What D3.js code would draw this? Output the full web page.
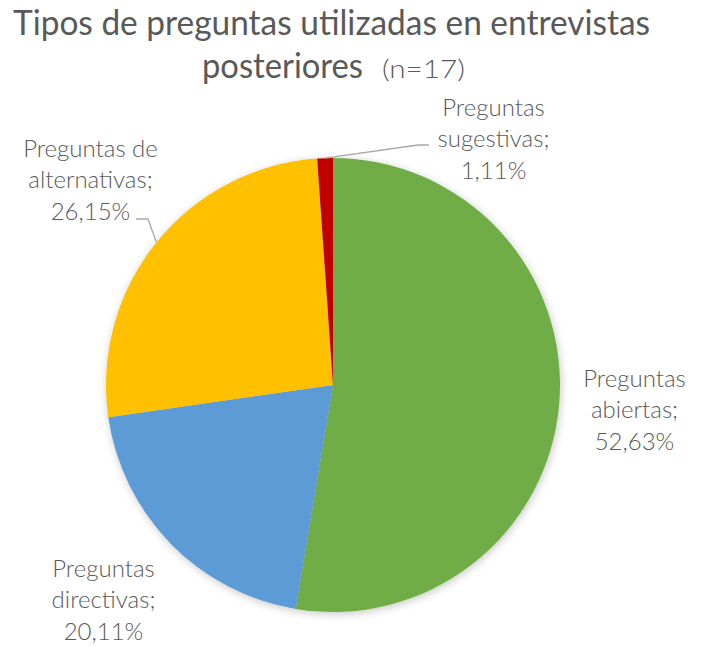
<!DOCTYPE html>
<html lang="es">
<head>
    <meta charset="UTF-8">
    <title>Tipos de preguntas</title>
    <script src="https://d3js.org/d3.v7.min.js"></script>
    <style>
        body { margin: 0; background: #fff; }
        text { font-family: Lato, "Open Sans", sans-serif; fill: #595959; }
    </style>
</head>
<body>
    <div id="chart"></div>

    <script>
        // data
        const categories = ["Preguntas abiertas", "Preguntas directivas", "Preguntas de alternativas", "Preguntas sugestivas"];
        const values = [52.63, 20.11, 26.15, 1.11];
        const colors = ["#70AD47", "#5B9BD5", "#FFC000", "#C00000"];
        const titleLines = ["Tipos de preguntas utilizadas en entrevistas", "posteriores"];
        const subtitle = "(n=17)";

        // layout
        var width = 707, height = 647;
        var cx = 333, cy = 385, radius = 227;
        // label centre x and baseline of the middle line
        var labelPos = [[634.5, 418], [103.5, 608], [90.5, 188], [493.5, 147]];
        // leader elbows (null = no leader)
        var leaders = [null, null, [[148, 219], [136, 219]], [[418, 145], [429, 145]]];
        var lineGap = 31.5;

        const svg = d3.select("#chart").append("svg")
            .attr("width", width)
            .attr("height", height);

        var defs = svg.append("defs");
        var shadow = defs.append("filter")
            .attr("id", "shadow")
            .attr("x", "-20%").attr("y", "-20%")
            .attr("width", "140%").attr("height", "140%");
        shadow.append("feDropShadow")
            .attr("dx", 1).attr("dy", 2)
            .attr("stdDeviation", 4)
            .attr("flood-color", "#000")
            .attr("flood-opacity", 0.22);

        // title
        svg.append("text")
            .attr("x", 331.5).attr("y", 35)
            .attr("text-anchor", "middle")
            .attr("font-size", 35)
            .attr("textLength", 637)
            .attr("lengthAdjust", "spacingAndGlyphs")
            .text(titleLines[0]);

        svg.append("text")
            .attr("x", 202).attr("y", 78)
            .attr("font-size", 35)
            .attr("textLength", 161)
            .attr("lengthAdjust", "spacingAndGlyphs")
            .text(titleLines[1]);

        svg.append("text")
            .attr("x", 382).attr("y", 78)
            .attr("font-size", 26)
            .attr("font-weight", 300)
            .attr("textLength", 83)
            .attr("lengthAdjust", "spacingAndGlyphs")
            .text(subtitle);

        // pie
        var pie = d3.pie().sort(null).value(d => d);
        var arcs = pie(values);
        var arc = d3.arc().innerRadius(0).outerRadius(radius);

        var g = svg.append("g")
            .attr("transform", "translate(" + cx + "," + cy + ")");

        g.append("g")
            .attr("filter", "url(#shadow)")
            .selectAll("path")
            .data(arcs)
            .join("path")
            .attr("d", arc)
            .attr("fill", (d, i) => colors[i]);

        // leader lines
        var fmt = d3.format(".2f");
        arcs.forEach(function(d, i) {
            if (!leaders[i]) return;
            var a = (d.startAngle + d.endAngle) / 2;
            var start = [cx + radius * Math.sin(a), cy - radius * Math.cos(a)];
            var pts = [start].concat(leaders[i]);
            svg.append("path")
                .attr("d", d3.line()(pts))
                .attr("fill", "none")
                .attr("stroke", "#A6A6A6")
                .attr("stroke-width", 1.3);
        });

        // data labels
        arcs.forEach(function(d, i) {
            var words = categories[i].split(" ");
            var lines = [words.slice(0, -1).join(" "), words[words.length - 1] + ";",
                fmt(values[i]).replace(".", ",") + "%"];
            var t = svg.append("text")
                .attr("text-anchor", "middle")
                .attr("font-size", 24)
                .attr("font-weight", 300);
            lines.forEach(function(l, j) {
                t.append("tspan")
                    .attr("x", labelPos[i][0])
                    .attr("y", labelPos[i][1] + (j - 1) * lineGap)
                    .text(l);
            });
        });
    </script>
</body>
</html>
